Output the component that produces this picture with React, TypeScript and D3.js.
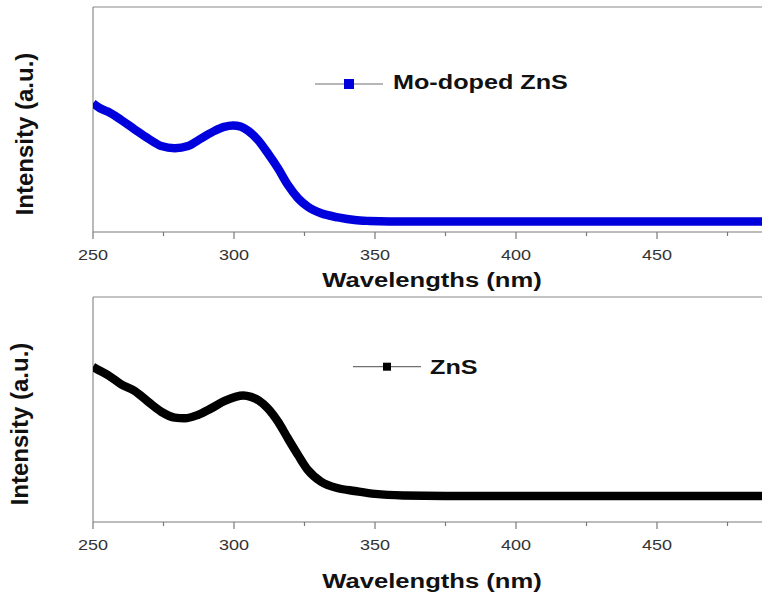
import React from "react";
import * as d3 from "d3";

const wavelengthsMo = [250, 252.5, 255.3, 260, 264.8, 269.5, 274.2, 279, 283.7, 288.4, 293.2, 296.5, 299.6, 302.4, 305, 308.5, 312, 315.6, 319.1, 322.7, 326.2, 330.9, 336.9, 342.8, 348, 355, 370, 400, 430, 460, 490];
const intensityMo = [0.572, 0.55, 0.535, 0.498, 0.456, 0.416, 0.382, 0.372, 0.382, 0.416, 0.45, 0.467, 0.473, 0.468, 0.45, 0.409, 0.35, 0.283, 0.209, 0.15, 0.112, 0.083, 0.065, 0.053, 0.049, 0.047, 0.047, 0.047, 0.047, 0.047, 0.047];

const wavelengthsZnS = [250, 252.5, 255.3, 260, 264.8, 269.5, 274.2, 279, 282.5, 287.2, 291.9, 296.7, 300.5, 303.3, 306, 308.8, 312, 315.6, 319.1, 322.7, 326.2, 330.9, 336.9, 342.8, 350, 360, 375, 400, 430, 460, 490];
const intensityZnS = [0.69, 0.672, 0.653, 0.612, 0.582, 0.535, 0.49, 0.464, 0.461, 0.476, 0.505, 0.538, 0.556, 0.562, 0.556, 0.54, 0.505, 0.446, 0.372, 0.298, 0.231, 0.179, 0.15, 0.138, 0.125, 0.118, 0.116, 0.116, 0.116, 0.116, 0.116];

const majorTicks = [250, 300, 350, 400, 450];
const minorTicks = [275, 325, 375, 425, 475];
const xTitle = "Wavelengths (nm)";
const yTitle = "Intensity (a.u.)";
const panels = [
  { name: "Mo-doped ZnS", xs: wavelengthsMo, ys: intensityMo, color: "#0000dc" },
  { name: "ZnS", xs: wavelengthsZnS, ys: intensityZnS, color: "#000000" },
];

const W = 762;
const H = 596;
const FONT = "'Liberation Sans', Arial, Helvetica, sans-serif";

const layouts = [
  { top: 7, bottom: 232, tickBase: 260, titleBase: 287, yLabX: 33, yLabY: 134, legLine: [315, 383], legY: 84, marker: 10, textX: 393, textBase: 88.5 },
  { top: 297, bottom: 522, tickBase: 550, titleBase: 588, yLabX: 28, yLabY: 424, legLine: [353, 421], legY: 366.7, marker: 8, textX: 430, textBase: 373.5 },
];

const x = d3.scaleLinear().domain([250, 450]).range([93, 657]);
const xRight = W;

function Panel({ idx }: { idx: number }) {
  const p = panels[idx];
  const L = layouts[idx];
  const y = d3.scaleLinear().domain([0, 1]).range([L.bottom, L.top]);
  const pts = p.xs.map((v, i) => [v, p.ys[i]] as [number, number]);
  const line = d3
    .line<[number, number]>()
    .x((d) => x(d[0]))
    .y((d) => y(d[1]))
    .curve(d3.curveMonotoneX);
  const clipId = `clip${idx}`;
  const x0 = x(250);
  const mx = (L.legLine[0] + L.legLine[1]) / 2;
  return (
    <g>
      <defs>
        <clipPath id={clipId}>
          <rect x={x0} y={L.top} width={xRight - x0} height={L.bottom - L.top} />
        </clipPath>
      </defs>
      <line x1={x0} x2={xRight} y1={L.top} y2={L.top} stroke="#8a8a8a" strokeWidth={1.2} />
      <line x1={x0} x2={x0} y1={L.top} y2={L.bottom} stroke="#8a8a8a" strokeWidth={1.2} />
      <line x1={x0} x2={xRight} y1={L.bottom} y2={L.bottom} stroke="#7a7a7a" strokeWidth={1.2} />
      {majorTicks.map((t) => (
        <line key={"M" + t} x1={x(t)} x2={x(t)} y1={L.bottom} y2={L.bottom + 7} stroke="#7a7a7a" strokeWidth={1.2} />
      ))}
      {minorTicks.map((t) => (
        <line key={"m" + t} x1={x(t)} x2={x(t)} y1={L.bottom} y2={L.bottom + 4} stroke="#7a7a7a" strokeWidth={1.2} />
      ))}
      {majorTicks.map((t) => (
        <text
          key={"l" + t}
          transform={`translate(${x(t)},${L.tickBase}) scale(1.2,1)`}
          textAnchor="middle"
          fontFamily={FONT}
          fontSize={15}
          fill="#333"
        >
          {t}
        </text>
      ))}
      <text
        transform={`translate(432,${L.titleBase}) scale(1.22,1)`}
        textAnchor="middle"
        fontFamily={FONT}
        fontSize={21}
        fontWeight="bold"
        fill="#111"
      >
        {xTitle}
      </text>
      <text
        transform={`translate(${L.yLabX},${L.yLabY}) rotate(-90)`}
        textAnchor="middle"
        fontFamily={FONT}
        fontSize={24}
        fontWeight="bold"
        fill="#111"
      >
        {yTitle}
      </text>
      <g clipPath={`url(#${clipId})`}>
        <path d={line(pts) || ""} fill="none" stroke={p.color} strokeWidth={8.5} strokeLinejoin="round" />
      </g>
      <line x1={L.legLine[0]} x2={L.legLine[1]} y1={L.legY} y2={L.legY} stroke="#707070" strokeWidth={1.2} />
      <rect x={mx - L.marker / 2} y={L.legY - L.marker / 2} width={L.marker} height={L.marker} fill={p.color} />
      <text
        transform={`translate(${L.textX},${L.textBase}) scale(1.2,1)`}
        fontFamily={FONT}
        fontSize={21}
        fontWeight="bold"
        fill="#111"
      >
        {p.name}
      </text>
    </g>
  );
}

export default function App() {
  return (
    <svg
      width={W}
      height={H}
      viewBox={`0 0 ${W} ${H}`}
      style={{ position: "absolute", left: 0, top: 0, display: "block", background: "#fff" }}
    >
      <rect width={W} height={H} fill="#fff" />
      <Panel idx={0} />
      <Panel idx={1} />
    </svg>
  );
}
